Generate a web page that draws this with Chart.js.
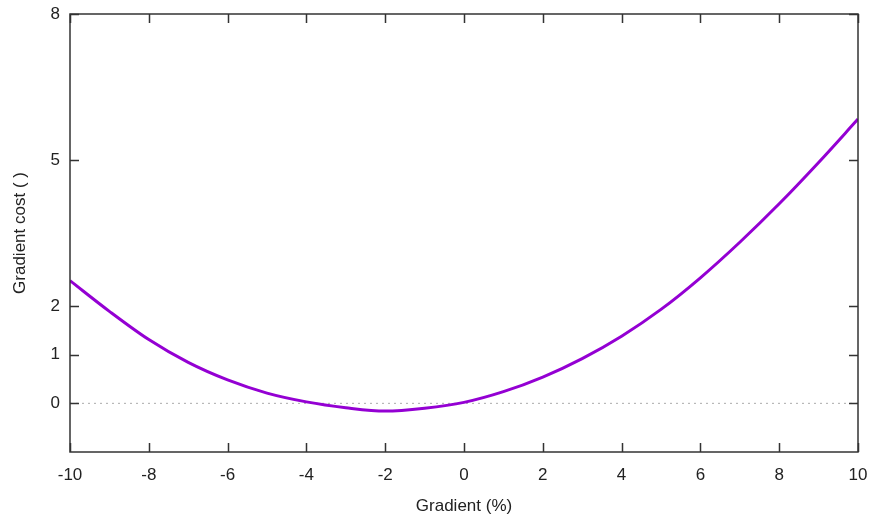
<!DOCTYPE html>
<html>
<head>
<meta charset="utf-8">
<script src="https://cdn.jsdelivr.net/npm/chart.js@4/dist/chart.umd.min.js"></script>
<style>
	body { margin: 0; background: #fff; }
	canvas { display: block; }
</style>
</head>
<body>
<canvas id="chart" width="870" height="518"></canvas>
<script>
// gradient (%) and cost
var gradient = [-10, -9, -8, -7, -6, -5, -4, -3, -2, -1, 0, 1, 2, 3, 4, 5, 6, 7, 8, 9, 10];
var cost = [2.52, 1.89, 1.31, 0.84, 0.48, 0.21, 0.03, -0.09, -0.16, -0.10, 0.02, 0.24, 0.54, 0.92, 1.38, 1.93, 2.58, 3.31, 4.10, 4.95, 5.84];
var zeroLine = [-10, 10];
var yTicks = [0, 1, 2, 5, 8];

var textColor = '#222';
var frameColor = '#333';
var fontFamily = 'Liberation Sans, Arial, sans-serif';

// gnuplot style box with ticks pointing inwards on all four sides
var frame = {
	id: 'frame',
	afterDraw: function(chart) {
		var ctx = chart.ctx;
		var a = chart.chartArea;
		var x = chart.scales.x, y = chart.scales.y;
		var len = 9;
		ctx.save();
		ctx.strokeStyle = frameColor;
		ctx.lineWidth = 1.5;
		ctx.beginPath();
		x.ticks.forEach(function(t) {
			var px = Math.round(x.getPixelForValue(t.value)) + 0.5;
			ctx.moveTo(px, a.bottom); ctx.lineTo(px, a.bottom - len);
			ctx.moveTo(px, a.top); ctx.lineTo(px, a.top + len);
		});
		y.ticks.forEach(function(t) {
			var py = Math.round(y.getPixelForValue(t.value)) + 0.5;
			ctx.moveTo(a.left, py); ctx.lineTo(a.left + len, py);
			ctx.moveTo(a.right, py); ctx.lineTo(a.right - len, py);
		});
		ctx.stroke();
		ctx.strokeRect(a.left, a.top, a.right - a.left, a.bottom - a.top);
		ctx.restore();
	}
};

var c = new Chart(document.getElementById('chart'), {
	type: 'line',
	data: {
		datasets: [{
			data: gradient.map(function(g, i) { return {x: g, y: cost[i]}; }),
			borderColor: '#9400D3',
			borderWidth: 3,
			pointRadius: 0,
			cubicInterpolationMode: 'monotone',
			fill: false
		}, {
			data: zeroLine.map(function(g) { return {x: g, y: 0}; }),
			borderColor: '#aaa',
			borderWidth: 1,
			borderDash: [2, 4],
			pointRadius: 0,
			fill: false
		}]
	},
	options: {
		responsive: false,
		animation: false,
		layout: { padding: { top: 14, right: 12, left: 0, bottom: 0 } },
		plugins: { legend: { display: false }, tooltip: { enabled: false } },
		scales: {
			x: {
				type: 'linear',
				min: -10,
				max: 10,
				grid: { display: false, drawTicks: false },
				border: { display: false },
				ticks: { stepSize: 2, padding: 13, color: textColor, font: { family: fontFamily, size: 17 } },
				title: { display: true, text: 'Gradient (%)', color: textColor, padding: { top: 0, bottom: 1 }, font: { family: fontFamily, size: 17 } },
				afterFit: function(s) {
					s.height = 66;
					s.paddingLeft = 0;
					s.paddingRight = 0;
				}
			},
			y: {
				type: 'linear',
				min: -1,
				max: 8,
				grid: { display: false, drawTicks: false },
				border: { display: false },
				afterBuildTicks: function(s) { s.ticks = yTicks.map(function(v) { return {value: v}; }); },
				ticks: { padding: 10, color: textColor, font: { family: fontFamily, size: 17 } },
				title: { display: true, text: 'Gradient cost ( )', color: textColor, padding: { top: 10, bottom: 0 }, font: { family: fontFamily, size: 17 } },
				afterFit: function(s) {
					s.width = 70;
					s.paddingTop = 0;
					s.paddingBottom = 0;
				}
			}
		}
	},
	plugins: [frame]
});
</script>
</body>
</html>
